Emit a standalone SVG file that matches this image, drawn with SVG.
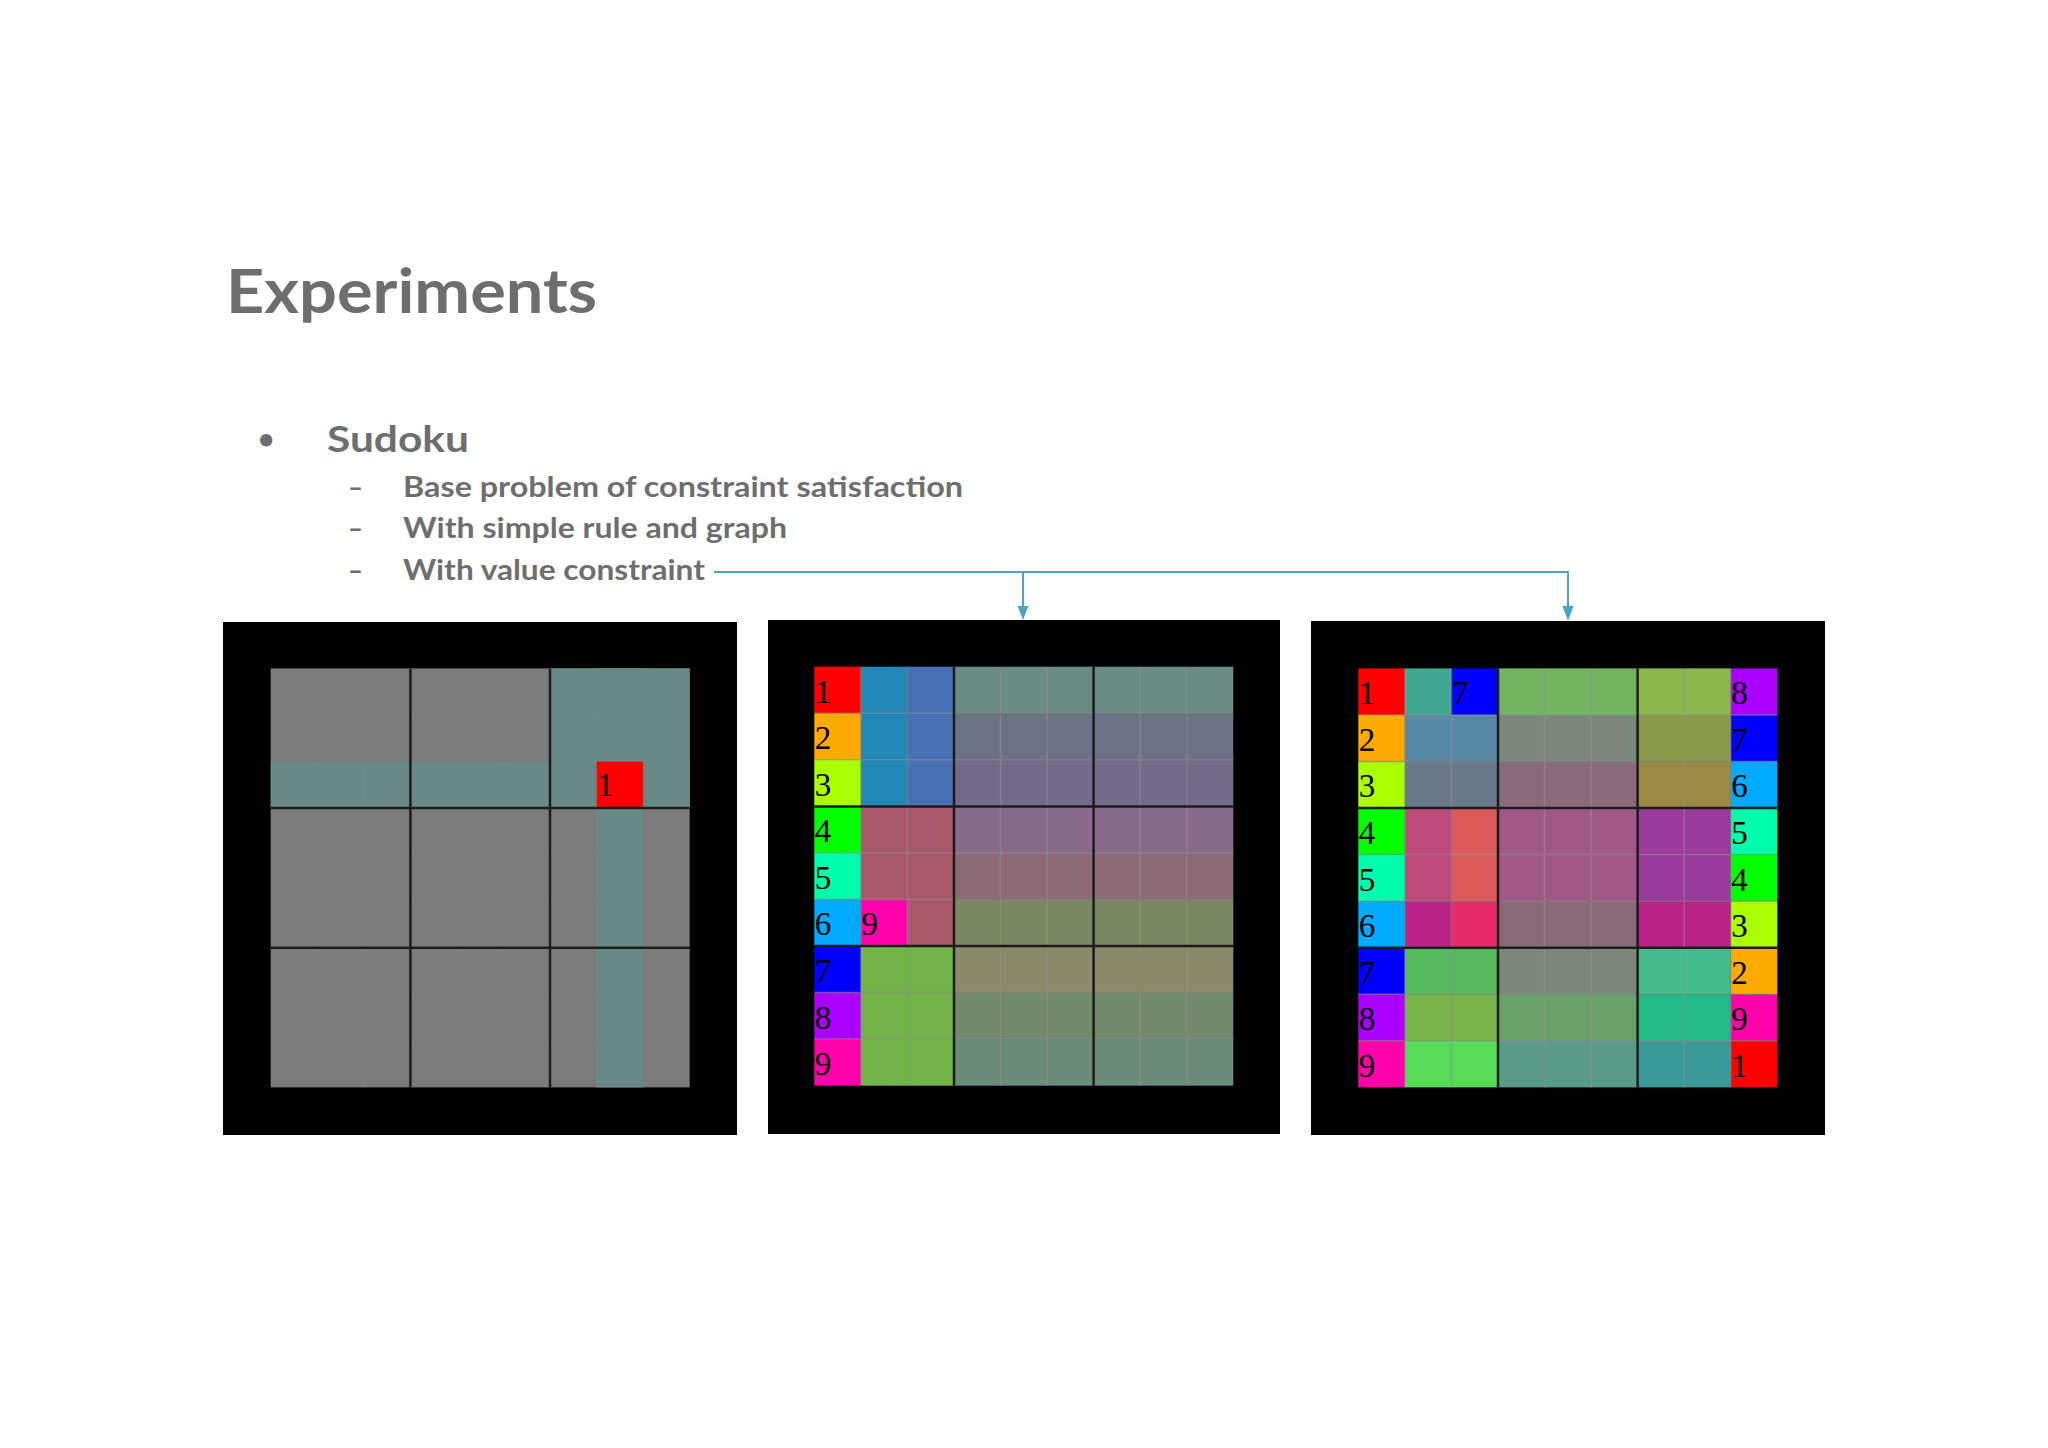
<svg xmlns="http://www.w3.org/2000/svg" xmlns:xlink="http://www.w3.org/1999/xlink" width="2048" height="1448" viewBox="0 0 2048 1448">
<style>
.t{font-family:Lato,"Open Sans","Liberation Sans",sans-serif;font-weight:bold;fill:#6e6e6e}
.d{font-family:"Liberation Serif","DejaVu Serif",serif;font-size:33px;fill:#000}
.frame{fill:#000}
.thin{fill:none;stroke:#8f8f8f;stroke-opacity:0.55;stroke-width:1.5}
.faint{fill:none;stroke:#8f8f8f;stroke-opacity:0.1;stroke-width:1.5}
.thick{fill:none;stroke:#1c1c1c;stroke-width:2.5}
.conn{fill:none;stroke:#4aa6c4;stroke-width:2}
.head{fill:#4aa6c4}
</style>
<defs>
<path id="thinGrid" class="thin" d="M46.6 0V419M93.1 0V419M186.2 0V419M232.8 0V419M325.9 0V419M372.4 0V419M0 46.6H419M0 93.1H419M0 186.2H419M0 232.8H419M0 325.9H419M0 372.4H419"/>
<path id="faintGrid" class="faint" d="M46.6 0V419M93.1 0V419M186.2 0V419M232.8 0V419M325.9 0V419M372.4 0V419M0 46.6H419M0 93.1H419M0 186.2H419M0 232.8H419M0 325.9H419M0 372.4H419"/>
<path id="thickGrid" class="thick" d="M139.7 0V419M279.3 0V419M0 139.7H419M0 279.3H419"/>
</defs>
<rect width="2048" height="1448" fill="#ffffff"/>

<g id="title">
<text class="t" x="226" y="313" font-size="61" textLength="371" lengthAdjust="spacingAndGlyphs">Experiments</text>
</g>

<g id="bullets">
<text class="t" x="266" y="449" font-size="28" text-anchor="middle">•</text>
<text class="t" x="327" y="452" font-size="37" textLength="142" lengthAdjust="spacingAndGlyphs">Sudoku</text>
<text class="t" x="348" y="497" font-size="29" font-weight="normal" textLength="15" lengthAdjust="spacingAndGlyphs">–</text>
<text class="t" x="403" y="497" font-size="29" textLength="560" lengthAdjust="spacingAndGlyphs">Base problem of constraint satisfaction</text>
<text class="t" x="348" y="538" font-size="29" font-weight="normal" textLength="15" lengthAdjust="spacingAndGlyphs">–</text>
<text class="t" x="403" y="538" font-size="29" textLength="384" lengthAdjust="spacingAndGlyphs">With simple rule and graph</text>
<text class="t" x="348" y="580" font-size="29" font-weight="normal" textLength="15" lengthAdjust="spacingAndGlyphs">–</text>
<text class="t" x="403" y="580" font-size="29" textLength="302" lengthAdjust="spacingAndGlyphs">With value constraint</text>
</g>

<g id="panel1">
<rect class="frame" x="223" y="622" width="514" height="513"/>
<g transform="translate(270.7,668.4)">
<rect x="0" y="0" width="419" height="419" fill="#7b7b7b"/>
<rect x="279.3" y="0" width="139.7" height="139.7" fill="#688a86"/>
<rect x="0" y="93.1" width="419" height="46.6" fill="#688a86"/>
<rect x="325.9" y="0" width="46.5" height="419" fill="#688a86"/>
<rect x="325.9" y="93.1" width="46.5" height="46.6" fill="#ff0000"/>
<use xlink:href="#faintGrid" href="#faintGrid"/>
<use xlink:href="#thickGrid" href="#thickGrid"/>
<text class="d" x="326.4" y="127.5">1</text>
</g>
</g>

<g id="panel2">
<rect class="frame" x="768" y="620" width="512" height="514"/>
<g transform="translate(814.3,666.7)">
<rect x="0" y="0" width="46.6" height="46.7" fill="#ff0000"/>
<rect x="0" y="46.6" width="46.6" height="46.6" fill="#ffaa00"/>
<rect x="0" y="93.1" width="46.6" height="46.7" fill="#aaff00"/>
<rect x="0" y="139.7" width="46.6" height="46.6" fill="#00ff00"/>
<rect x="0" y="186.2" width="46.6" height="46.7" fill="#00ffaa"/>
<rect x="0" y="232.8" width="46.6" height="46.6" fill="#00aaff"/>
<rect x="0" y="279.3" width="46.6" height="46.7" fill="#0000ff"/>
<rect x="0" y="325.9" width="46.6" height="46.6" fill="#aa00ff"/>
<rect x="0" y="372.4" width="46.6" height="46.6" fill="#ff00aa"/>
<rect x="46.6" y="0" width="46.6" height="139.7" fill="#2288b8"/>
<rect x="93.1" y="0" width="46.6" height="139.7" fill="#4871b6"/>
<rect x="46.6" y="139.7" width="93.1" height="139.6" fill="#a85868"/>
<rect x="46.6" y="232.8" width="46.5" height="46.5" fill="#ff00aa"/>
<rect x="46.6" y="279.3" width="93.1" height="139.7" fill="#72b448"/>
<rect x="139.7" y="0" width="279.3" height="46.7" fill="#6a8a84"/>
<rect x="139.7" y="46.6" width="279.3" height="46.6" fill="#6a7286"/>
<rect x="139.7" y="93.1" width="279.3" height="46.7" fill="#746a8a"/>
<rect x="139.7" y="139.7" width="279.3" height="46.6" fill="#8a6a8a"/>
<rect x="139.7" y="186.2" width="279.3" height="46.7" fill="#8c6a76"/>
<rect x="139.7" y="232.8" width="279.3" height="46.6" fill="#7a8862"/>
<rect x="139.7" y="279.3" width="279.3" height="46.7" fill="#8a8a6a"/>
<rect x="139.7" y="325.9" width="279.3" height="46.6" fill="#738a6a"/>
<rect x="139.7" y="372.4" width="279.3" height="46.6" fill="#6a8a7a"/>
<use xlink:href="#thinGrid" href="#thinGrid"/>
<use xlink:href="#thickGrid" href="#thickGrid"/>
<text class="d" x="0.5" y="36">1</text>
<text class="d" x="0.5" y="82.6">2</text>
<text class="d" x="0.5" y="129.1">3</text>
<text class="d" x="0.5" y="175.7">4</text>
<text class="d" x="0.5" y="222.2">5</text>
<text class="d" x="0.5" y="268.8">6</text>
<text class="d" x="0.5" y="315.3">7</text>
<text class="d" x="0.5" y="361.9">8</text>
<text class="d" x="0.5" y="408.4">9</text>
<text class="d" x="47.1" y="268.8">9</text>
</g>
</g>

<g id="panel3">
<rect class="frame" x="1311" y="621" width="514" height="514"/>
<g transform="translate(1358.3,668.4)">
<rect x="0" y="0" width="46.6" height="46.7" fill="#ff0000"/>
<rect x="0" y="46.6" width="46.6" height="46.6" fill="#ffaa00"/>
<rect x="0" y="93.1" width="46.6" height="46.7" fill="#aaff00"/>
<rect x="0" y="139.7" width="46.6" height="46.6" fill="#00ff00"/>
<rect x="0" y="186.2" width="46.6" height="46.7" fill="#00ffaa"/>
<rect x="0" y="232.8" width="46.6" height="46.6" fill="#00aaff"/>
<rect x="0" y="279.3" width="46.6" height="46.7" fill="#0000ff"/>
<rect x="0" y="325.9" width="46.6" height="46.6" fill="#aa00ff"/>
<rect x="0" y="372.4" width="46.6" height="46.6" fill="#ff00aa"/>
<rect x="372.4" y="0" width="46.6" height="46.7" fill="#aa00ff"/>
<rect x="372.4" y="46.6" width="46.6" height="46.6" fill="#0000ff"/>
<rect x="372.4" y="93.1" width="46.6" height="46.7" fill="#00aaff"/>
<rect x="372.4" y="139.7" width="46.6" height="46.6" fill="#00ffaa"/>
<rect x="372.4" y="186.2" width="46.6" height="46.7" fill="#00ff00"/>
<rect x="372.4" y="232.8" width="46.6" height="46.6" fill="#aaff00"/>
<rect x="372.4" y="279.3" width="46.6" height="46.7" fill="#ffaa00"/>
<rect x="372.4" y="325.9" width="46.6" height="46.6" fill="#ff00aa"/>
<rect x="372.4" y="372.4" width="46.6" height="46.6" fill="#ff0000"/>
<rect x="46.6" y="0" width="46.6" height="46.7" fill="#40a890"/>
<rect x="93.1" y="0" width="46.6" height="46.7" fill="#0000ff"/>
<rect x="139.7" y="0" width="139.6" height="46.7" fill="#72b460"/>
<rect x="279.3" y="0" width="93.1" height="46.7" fill="#8ab84a"/>
<rect x="46.6" y="46.6" width="93.1" height="46.6" fill="#5888a8"/>
<rect x="139.7" y="46.6" width="139.6" height="46.6" fill="#7a887a"/>
<rect x="279.3" y="46.6" width="93.1" height="46.6" fill="#8a9a4a"/>
<rect x="46.6" y="93.1" width="93.1" height="46.7" fill="#6a7a8a"/>
<rect x="139.7" y="93.1" width="139.6" height="46.7" fill="#886a7a"/>
<rect x="279.3" y="93.1" width="93.1" height="46.7" fill="#9a8a42"/>
<rect x="46.6" y="139.7" width="46.6" height="93.2" fill="#bd4a78"/>
<rect x="93.1" y="139.7" width="46.6" height="93.2" fill="#dd5a5a"/>
<rect x="139.7" y="139.7" width="139.6" height="93.2" fill="#a05888"/>
<rect x="279.3" y="139.7" width="93.1" height="93.2" fill="#9a3a9a"/>
<rect x="46.6" y="232.8" width="46.6" height="46.6" fill="#bb2288"/>
<rect x="93.1" y="232.8" width="46.6" height="46.6" fill="#e82a6a"/>
<rect x="139.7" y="232.8" width="139.6" height="46.6" fill="#886a78"/>
<rect x="279.3" y="232.8" width="93.1" height="46.6" fill="#bb2288"/>
<rect x="46.6" y="279.3" width="93.1" height="46.7" fill="#55b85a"/>
<rect x="139.7" y="279.3" width="139.6" height="46.7" fill="#7a887a"/>
<rect x="279.3" y="279.3" width="93.1" height="46.7" fill="#44bb8a"/>
<rect x="46.6" y="325.9" width="93.1" height="46.6" fill="#78b448"/>
<rect x="139.7" y="325.9" width="139.6" height="46.6" fill="#68a068"/>
<rect x="279.3" y="325.9" width="93.1" height="46.6" fill="#22bb88"/>
<rect x="46.6" y="372.4" width="93.1" height="46.6" fill="#55dd58"/>
<rect x="139.7" y="372.4" width="139.6" height="46.6" fill="#5a9a88"/>
<rect x="279.3" y="372.4" width="93.1" height="46.6" fill="#3a9a9a"/>
<use xlink:href="#thinGrid" href="#thinGrid"/>
<use xlink:href="#thickGrid" href="#thickGrid"/>
<text class="d" x="0.5" y="36">1</text>
<text class="d" x="0.5" y="82.6">2</text>
<text class="d" x="0.5" y="129.1">3</text>
<text class="d" x="0.5" y="175.7">4</text>
<text class="d" x="0.5" y="222.2">5</text>
<text class="d" x="0.5" y="268.8">6</text>
<text class="d" x="0.5" y="315.3">7</text>
<text class="d" x="0.5" y="361.9">8</text>
<text class="d" x="0.5" y="408.4">9</text>
<text class="d" x="93.6" y="36">7</text>
<text class="d" x="372.9" y="36">8</text>
<text class="d" x="372.9" y="82.6">7</text>
<text class="d" x="372.9" y="129.1">6</text>
<text class="d" x="372.9" y="175.7">5</text>
<text class="d" x="372.9" y="222.2">4</text>
<text class="d" x="372.9" y="268.8">3</text>
<text class="d" x="372.9" y="315.3">2</text>
<text class="d" x="372.9" y="361.9">9</text>
<text class="d" x="372.9" y="408.4">1</text>
</g>
</g>

<g id="connectors">
<path class="conn" d="M714 572H1568V606"/>
<path class="conn" d="M1023 572V606"/>
<path class="head" d="M1017.5 606H1028.5L1023 620Z"/>
<path class="head" d="M1562.5 606H1573.5L1568 621Z"/>
</g>
</svg>
